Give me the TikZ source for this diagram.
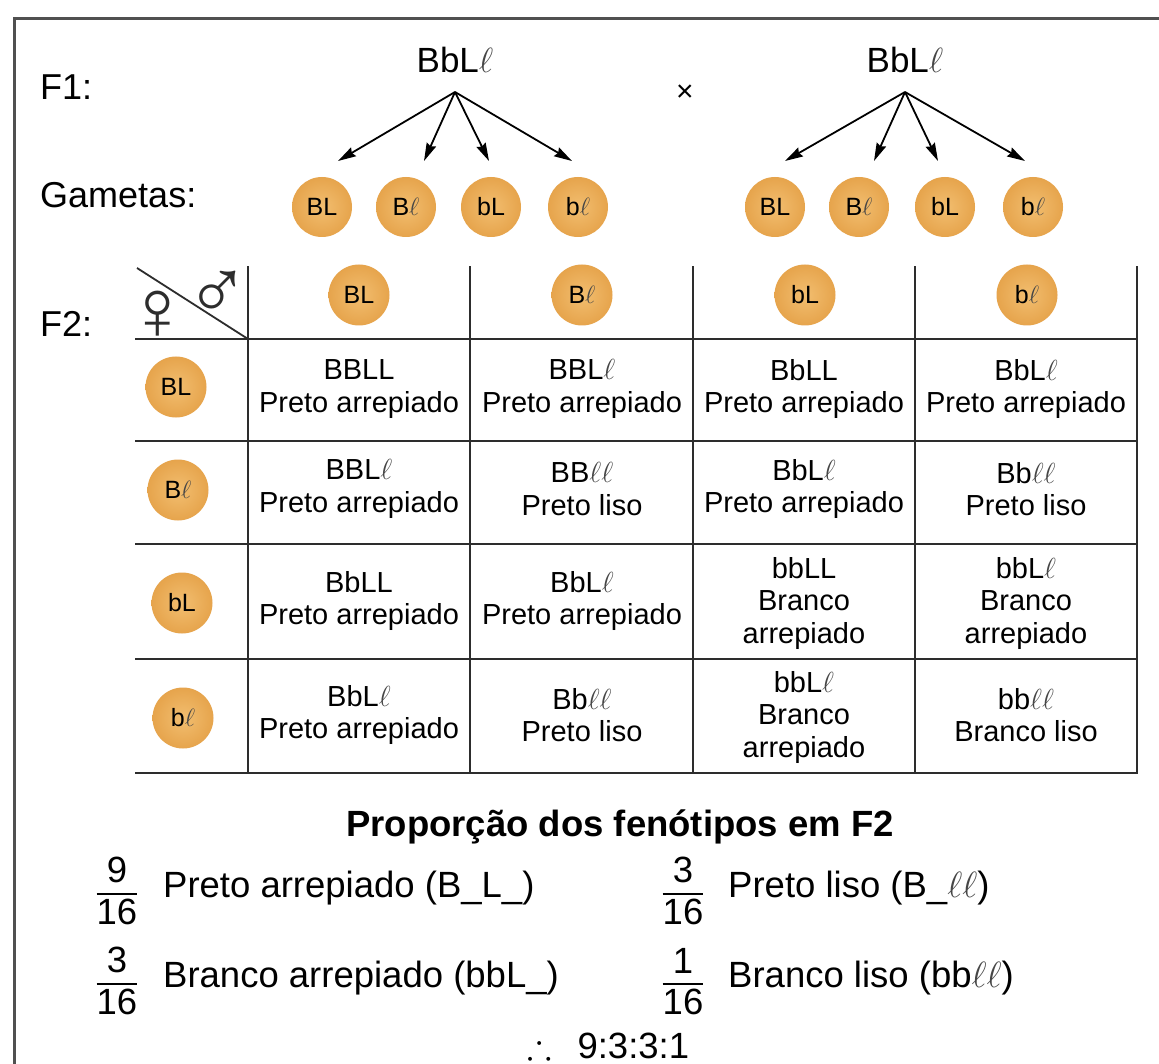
\RequirePackage{fix-cm}
\documentclass[tikz,border=0pt]{standalone}
\usepackage{amssymb}
\usepackage{fontspec}
\setmainfont{Liberation Sans}
\usetikzlibrary{arrows.meta}
\definecolor{gamIn}{RGB}{242,190,112}
\definecolor{gamOut}{RGB}{230,164,76}
\definecolor{lineC}{RGB}{45,45,45}
\definecolor{frameC}{RGB}{80,80,80}
\definecolor{elC}{RGB}{70,70,70}
\newcommand\el{\textcolor{elC}{$\ell$}}
\newcommand\frc[2]{\vbox{\halign{\hfil##\hfil\cr #1\cr\noalign{\kern10pt\hrule height1.7pt\kern3.5pt}#2\cr}}}
\tikzset{
  lbl/.style={font=\fontsize{36}{40}\selectfont, anchor=base west, inner sep=0},
  geno/.style={font=\fontsize{35}{40}\selectfont, anchor=base, inner sep=0},
  gam/.style={circle, minimum size=61pt, inner sep=0, inner color=gamIn, outer color=gamOut, font=\fontsize{25}{30}\selectfont},
  cell/.style={align=center, font=\fontsize{29}{32.5}\selectfont, inner sep=0},
  gridline/.style={line width=2pt, draw=lineC, line cap=rect},
  arr/.style={-{Stealth[length=18pt,width=10pt,inset=2pt]}, line width=1.8pt, draw=black},
  btxt/.style={font=\fontsize{36.5}{40}\selectfont, anchor=base west, inner sep=0},
  frcn/.style={font=\fontsize{36.5}{40}\selectfont, anchor=base, inner sep=0},
  sexsym/.style={font=\fontsize{86}{86}\selectfont, inner sep=0, text=lineC},
}
\begin{document}
\begin{tikzpicture}[x=1pt,y=-1pt]
\clip (0,0) rectangle (1159,1064);
\fill[white] (0,0) rectangle (1159,1064);
% frame
\draw[frameC, line width=3pt] (1200,19) -- (14,19) -- (14,1100);

% labels
\node[lbl] (f1) at (40,100) {F1:};
\node[lbl] (gamlbl) at (40,208) {Gametas:};
\node[lbl] (f2) at (40,337) {F2:};

\node[geno] (pL) at (455,73) {BbL\el};
\node[geno] (pR) at (905,73) {BbL\el};
\node[font=\fontsize{30}{30}\selectfont, inner sep=0] (cross) at (685,93) {×};

\coordinate (apL) at (455,92);
\coordinate (apR) at (905,92);

\node[gam, minimum size=60pt] (g1a) at (322,207) {BL};
\node[gam, minimum size=60pt] (g1b) at (406,207) {B\el};
\node[gam, minimum size=60pt] (g1c) at (491,207) {bL};
\node[gam, minimum size=60pt] (g1d) at (578,207) {b\el};
\node[gam, minimum size=60pt] (g2a) at (775,207) {BL};
\node[gam, minimum size=60pt] (g2b) at (859,207) {B\el};
\node[gam, minimum size=60pt] (g2c) at (945,207) {bL};
\node[gam, minimum size=60pt] (g2d) at (1033,207) {b\el};

\coordinate (t1a) at (338,161);
\coordinate (t1b) at (424,161);
\coordinate (t1c) at (489,161);
\coordinate (t1d) at (572,161);
\coordinate (t2a) at (785,161);
\coordinate (t2b) at (874,161);
\coordinate (t2c) at (938,161);
\coordinate (t2d) at (1025,161);

\foreach \t in {t1a,t1b,t1c,t1d} \draw[arr] (apL) -- (\t);
\foreach \t in {t2a,t2b,t2c,t2d} \draw[arr] (apR) -- (\t);

% table grid
\foreach \x in {248,470,693,915,1137} \draw[gridline] (\x,267) -- (\x,773);
\foreach \y in {339,441,544,659,773} \draw[gridline] (136,\y) -- (1137,\y);
\draw[line width=1.8pt, lineC] (137,268) -- (248,339);

\node[sexsym] (male) at (218,295) {♂};
\node[sexsym] (female) at (158,315) {♀};

% header gametes
\node[gam] (h1) at (359,295) {BL};
\node[gam] (h2) at (582,295) {B\el};
\node[gam] (h3) at (805,295) {bL};
\node[gam] (h4) at (1027,295) {b\el};
% row gametes
\node[gam] (r1) at (176,387) {BL};
\node[gam] (r2) at (178,490) {B\el};
\node[gam] (r3) at (182,603) {bL};
\node[gam] (r4) at (183,718) {b\el};

% cells
\node[cell] (c11) at (359,389) {BBLL\\Preto arrepiado};
\node[cell] (c12) at (582,389) {BBL\el\\Preto arrepiado};
\node[cell] (c13) at (804,389) {BbLL\\Preto arrepiado};
\node[cell] (c14) at (1026,389) {BbL\el\\Preto arrepiado};

\node[cell] (c21) at (359,489) {BBL\el\\Preto arrepiado};
\node[cell] (c22) at (582,489) {BB\el\el\\Preto liso};
\node[cell] (c23) at (804,489) {BbL\el\\Preto arrepiado};
\node[cell] (c24) at (1026,489) {Bb\el\el\\Preto liso};

\node[cell] (c31) at (359,601) {BbLL\\Preto arrepiado};
\node[cell] (c32) at (582,601) {BbL\el\\Preto arrepiado};
\node[cell] (c33) at (804,603) {bbLL\\Branco\\arrepiado};
\node[cell] (c34) at (1026,603) {bbL\el\\Branco\\arrepiado};

\node[cell] (c41) at (359,715) {BbL\el\\Preto arrepiado};
\node[cell] (c42) at (582,715) {Bb\el\el\\Preto liso};
\node[cell] (c43) at (804,717) {bbL\el\\Branco\\arrepiado};
\node[cell] (c44) at (1026,715) {bb\el\el\\Branco liso};

% proportions
\node[font=\bfseries\fontsize{36.5}{40}\selectfont, anchor=base, inner sep=0] (title) at (620,836) {Proporção dos fenótipos em F2};

\node[frcn] (fr1) at (117,924) {\frc{9}{16}};
\node[btxt] (ph1) at (163,897) {Preto arrepiado (B\_L\_)};
\node[frcn] (fr2) at (683,924) {\frc{3}{16}};
\node[btxt] (ph2) at (728,897) {Preto liso (B\_\el\el)};
\node[frcn] (fr3) at (117,1014) {\frc{3}{16}};
\node[btxt] (ph3) at (163,987) {Branco arrepiado (bbL\_)};
\node[frcn] (fr4) at (683,1014) {\frc{1}{16}};
\node[btxt] (ph4) at (728,987) {Branco liso (bb\el\el)};

\node[btxt] (ratio) at (527,1058) {$\therefore$\hspace{26pt}9:3:3:1};
\end{tikzpicture}
\end{document}
